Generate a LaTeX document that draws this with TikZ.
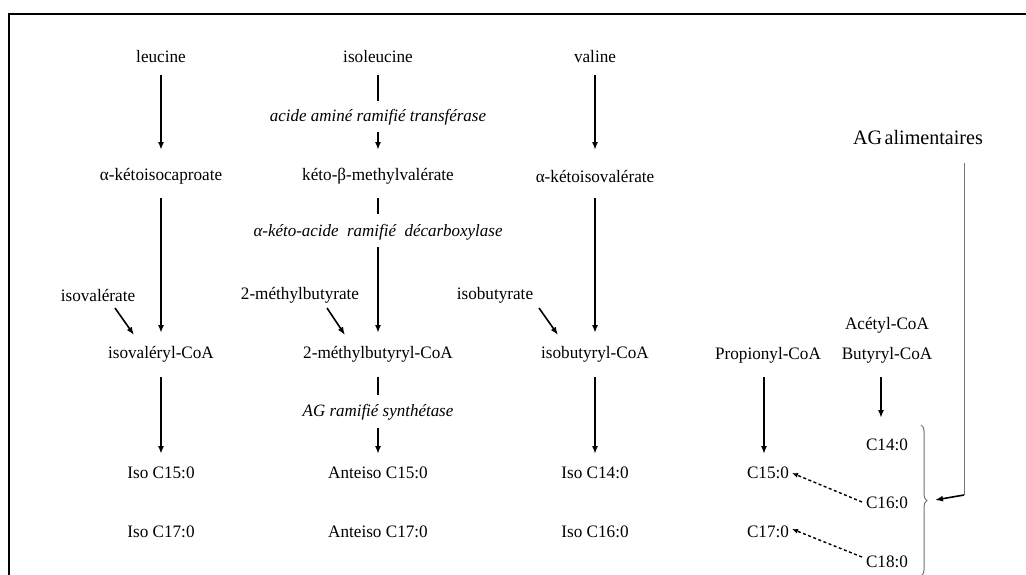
\documentclass[tikz,border=0pt]{standalone}
\usepackage{fontspec}
\setmainfont{Liberation Serif}[FakeStretch=0.98]
\usetikzlibrary{calc,arrows.meta,decorations.pathreplacing}
\begin{document}
\begin{tikzpicture}[x=1pt,y=-1pt,
  lbl/.style={font=\fontsize{17.5}{20}\selectfont, inner sep=0pt},
  enz/.style={font=\fontsize{17.3}{20}\selectfont\itshape, inner sep=0pt},
  big/.style={font=\fontsize{20.5}{23}\selectfont, inner sep=0pt},
  arr/.style={line width=1.6pt, -{Latex[length=8pt,width=6pt]}},
  seg/.style={line width=1.6pt},
  darr/.style={line width=1.4pt, dash pattern=on 3pt off 2.5pt, -{Latex[length=6pt,width=5pt]}},
  thin/.style={line width=1pt, black!55}]
\useasboundingbox (0,0) rectangle (1026,574);
\fill[white] (0,0) rectangle (1026,574);
\begin{scope}
\clip (0,0) rectangle (1026,574);
\draw[line width=2pt] (1032,14.2) -- (9,14.2) -- (9,580);

% nodes
\node[lbl] (leu) at (161,57) {leucine};
\node[lbl] (ile) at (378,57) {isoleucine};
\node[lbl] (val) at (595,57) {valine};
\node[enz] (e1) at (378,117) {acide aminé ramifié transférase};
\node[lbl] (kic) at (161,176) {α-kétoisocaproate};
\node[lbl] (kmv) at (378,176) {kéto-β-methylvalérate};
\node[lbl] (kiv) at (595,176) {α-kétoisovalérate};
\node[enz] (e2) at (378,232) {α-kéto-acide~ ramifié~ décarboxylase};
\node[lbl] (isoval) at (98,295) {isovalérate};
\node[lbl] (mb) at (300,295) {2-méthylbutyrate};
\node[lbl] (ib) at (495,295) {isobutyrate};
\node[lbl] (acet) at (887,325) {Acétyl-CoA};
\node[lbl] (ivcoa) at (161,354) {isovaléryl-CoA};
\node[lbl] (mbcoa) at (378,354) {2-méthylbutyryl-CoA};
\node[lbl] (ibcoa) at (595,354) {isobutyryl-CoA};
\node[lbl] (prop) at (768,355) {Propionyl-CoA};
\node[lbl] (but) at (887,355) {Butyryl-CoA};
\node[enz] (e3) at (378,412) {AG ramifié synthétase};
\node[lbl] (c14) at (887,445) {C14:0};
\node[lbl] (isoc15) at (161,473) {Iso C15:0};
\node[lbl] (aic15) at (378,473) {Anteiso C15:0};
\node[lbl] (isoc14) at (595,473) {Iso C14:0};
\node[lbl] (c15) at (768,473) {C15:0};
\node[lbl] (c16) at (887,503) {C16:0};
\node[lbl] (isoc17) at (161,532) {Iso C17:0};
\node[lbl] (aic17) at (378,532) {Anteiso C17:0};
\node[lbl] (isoc16) at (595,532) {Iso C16:0};
\node[lbl] (c17) at (768,532) {C17:0};
\node[lbl] (c18) at (887,562) {C18:0};
\node[big] (ag) at (918,137) {AG\hspace{2.5pt}alimentaires};

% leucine column
\draw[arr, shorten <=18pt, shorten >=26pt] (leu.center) -- (kic.center);
\draw[arr, shorten <=22pt, shorten >=21pt] (kic.center) -- (ivcoa.center);
\draw[arr, shorten <=23pt, shorten >=19pt] (ivcoa.center) -- (isoc15.center);
% isoleucine column
\draw[seg, shorten <=18pt, shorten >=16pt] (ile.center) -- (e1.center);
\draw[arr, shorten <=15pt, shorten >=26pt] (e1.center) -- (kmv.center);
\draw[seg, shorten <=22pt, shorten >=18pt] (kmv.center) -- (e2.center);
\draw[arr, shorten <=15pt, shorten >=21pt] (e2.center) -- (mbcoa.center);
\draw[seg, shorten <=23pt, shorten >=17pt] (mbcoa.center) -- (e3.center);
\draw[arr, shorten <=16pt, shorten >=19pt] (e3.center) -- (aic15.center);
% valine column
\draw[arr, shorten <=18pt, shorten >=26pt] (val.center) -- (kiv.center);
\draw[arr, shorten <=22pt, shorten >=21pt] (kiv.center) -- (ibcoa.center);
\draw[arr, shorten <=23pt, shorten >=19pt] (ibcoa.center) -- (isoc14.center);
% right columns
\draw[arr, shorten <=22pt, shorten >=19pt] ($(prop.center)+(-4,0)$) -- ($(c15.center)+(-4,0)$);
\draw[arr, shorten <=22pt, shorten >=27pt] ($(but.center)+(-6,0)$) -- ($(c14.center)+(-6,0)$);
% diagonals
\draw[arr] ($(isoval)+(17,13)$) -- ($(ivcoa)+(-27,-19)$);
\draw[arr] ($(mb)+(27,13)$) -- ($(mbcoa)+(-33,-19)$);
\draw[arr] ($(ib)+(44,13)$) -- ($(ibcoa)+(-37,-19)$);
% dashed
\draw[darr] ($(c16)+(-25,-1)$) -- ($(c15)+(24,0)$);
\draw[darr] ($(c18)+(-25,-5)$) -- ($(c17)+(24,-3)$);
% dietary FA
\coordinate (bend) at (964,495);
\coordinate (tip) at (935,500);
\draw[thin] ($(ag)+(46,26)$) -- (bend);
\draw[arr, line width=1.6pt] (bend) -- (tip);
\draw[thin, decorate, decoration={brace, amplitude=6pt}] (921,425) -- (921,576);
\end{scope}
\end{tikzpicture}
\end{document}
